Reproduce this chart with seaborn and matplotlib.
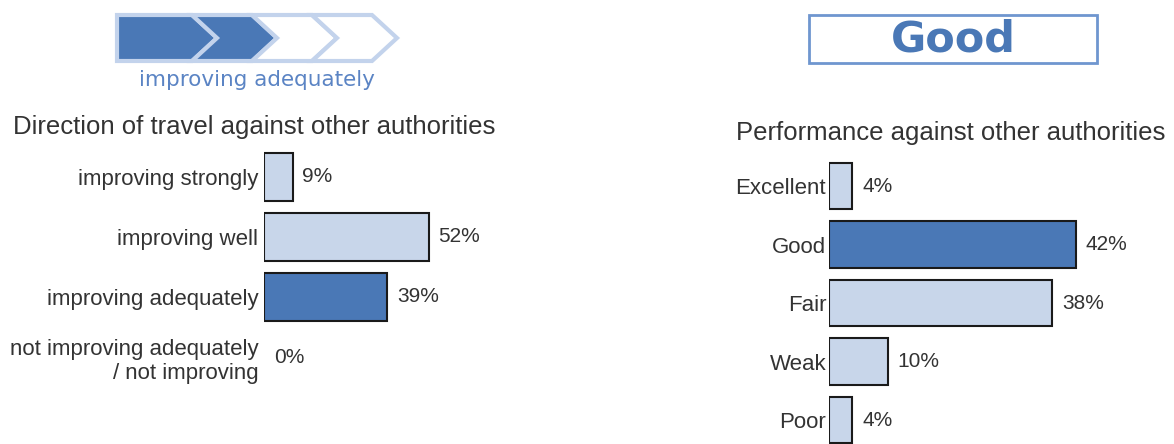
import seaborn as sns
from matplotlib import pyplot as plt
from matplotlib.patches import Polygon, Rectangle
import pandas as pd

# data
travel_cats = ['improving strongly', 'improving well', 'improving adequately',
               'not improving adequately\n/ not improving']
travel_vals = [9, 52, 39, 0]
travel_pick = 'improving adequately'

perf_cats = ['Excellent', 'Good', 'Fair', 'Weak', 'Poor']
perf_vals = [4, 42, 38, 10, 4]
perf_pick = 'Good'

light = '#c8d6ea'
dark = '#4a78b6'

sns.set_theme(style='white')
plt.rcParams['font.family'] = ['Liberation Sans', 'DejaVu Sans']

W, H = 1174, 444
fig = plt.figure(figsize=(W / 100, H / 100), dpi=100)


def px_axes(left, top, width, height):
    return fig.add_axes([left / W, 1 - (top + height) / H, width / W, height / H])


# header graphics drawn in pixel space
ov = px_axes(0, 0, W, H)
ov.set_xlim(0, W)
ov.set_ylim(H, 0)
ov.axis('off')

edge = '#c3d3ec'
top, bot, mid = 15, 61, 38
ov.add_patch(Polygon([(117, top), (192, top), (217, mid), (192, bot), (117, bot)],
                     closed=True, fc=dark, ec=edge, lw=3))
for i in range(3):
    L = 192 + 60 * i
    fc = dark if i == 0 else 'white'
    ov.add_patch(Polygon([(L, top), (L + 60, top), (L + 85, mid), (L + 60, bot),
                          (L, bot), (L + 25, mid)], closed=True, fc=fc, ec=edge, lw=3))
ov.text(257, 80, 'improving adequately', ha='center', va='center', fontsize=15.5,
        color='#5b84c4', family='DejaVu Sans')

ov.add_patch(Rectangle((809, 15), 288, 48, fc='white', ec='#6f96cf', lw=2))
ov.text(953, 39, 'Good', ha='center', va='center', fontsize=31, fontweight='heavy',
        color=dark, family='DejaVu Sans')


def draw(ax, cats, vals, pick, xmax, pad):
    df = pd.DataFrame({'cat': cats, 'val': vals})
    pal = {c: (dark if c == pick else light) for c in cats}
    sns.barplot(data=df, x='val', y='cat', hue='cat', palette=pal, legend=False,
                width=0.8, edgecolor='#1a1a1a', linewidth=1.5, saturation=1, ax=ax)
    for cont, v in zip(ax.containers, vals):
        if v == 0:
            for p in cont:
                p.set_linewidth(0)
        ax.bar_label(cont, labels=[f'{v}%'], padding=7, fontsize=15, color='#333333')
    ax.set_xlim(0, xmax)
    ax.set_xlabel('')
    ax.set_ylabel('')
    ax.set_xticks([])
    ax.tick_params(axis='y', length=0, pad=pad, labelsize=16, labelcolor='#333333')
    sns.despine(ax=ax, left=True, bottom=True)


ax1 = px_axes(264, 147, 190, 240)
draw(ax1, travel_cats, travel_vals, travel_pick, 60, 4)

ax2 = px_axes(829, 156.75, 293.5, 292.5)
draw(ax2, perf_cats, perf_vals, perf_pick, 50, 2)
ax2.set_clip_on(True)

fig.text(254 / W, 1 - 127 / H, 'Direction of travel against other authorities',
         ha='center', va='center', fontsize=18.5, color='#333333')
fig.text(951 / W, 1 - 133 / H, 'Performance against other authorities',
         ha='center', va='center', fontsize=18.5, color='#333333')

fig.savefig('out.png', dpi=100)
